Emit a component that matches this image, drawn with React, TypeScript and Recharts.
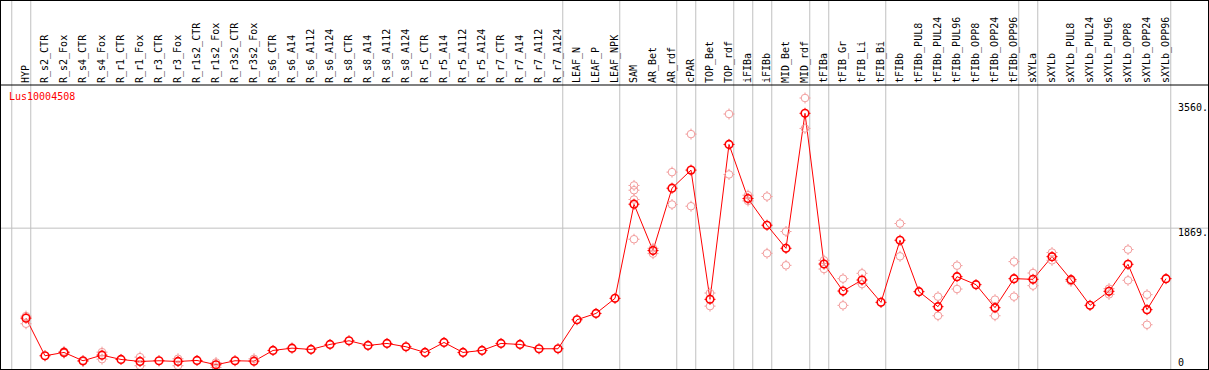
import React from "react"
import { LineChart, Line, XAxis, YAxis, ReferenceLine } from "recharts"

const samples = [
  "HYP", "R_s2_CTR", "R_s2_Fox", "R_s4_CTR", "R_s4_Fox", "R_r1_CTR", "R_r1_Fox",
  "R_r3_CTR", "R_r3_Fox", "R_r1s2_CTR", "R_r1s2_Fox", "R_r3s2_CTR", "R_r3s2_Fox",
  "R_s6_CTR", "R_s6_A14", "R_s6_A112", "R_s6_A124", "R_s8_CTR", "R_s8_A14", "R_s8_A112",
  "R_s8_A124", "R_r5_CTR", "R_r5_A14", "R_r5_A112", "R_r5_A124", "R_r7_CTR", "R_r7_A14",
  "R_r7_A112", "R_r7_A124", "LEAF_N", "LEAF_P", "LEAF_NPK", "SAM", "AR_Bet", "AR_rdf",
  "cPAR", "TOP_Bet", "TOP_rdf", "iFIBa", "iFIBb", "MID_Bet", "MID_rdf", "tFIBa",
  "tFIB_Gr", "tFIB_Li", "tFIB_Bi", "tFIBb", "tFIBb_PUL8", "tFIBb_PUL24", "tFIBb_PUL96",
  "tFIBb_OPP8", "tFIBb_OPP24", "tFIBb_OPP96", "sXYLa", "sXYLb", "sXYLb_PUL8",
  "sXYLb_PUL24", "sXYLb_PUL96", "sXYLb_OPP8", "sXYLb_OPP24", "sXYLb_OPP96",
]

// mean expression per sample
const expr = [
  700, 211, 254, 146, 219, 163, 137, 146, 137, 150, 94, 146, 141,
  280, 310, 293, 358, 406, 345, 371, 328, 254, 384, 254, 280, 371, 358, 302, 302,
  679, 761, 957, 2180, 1578, 2388, 2623, 944, 2957, 2254, 1907, 1607, 3361,
  1403, 1052, 1195, 905, 1712, 1044, 849, 1239, 1135, 836, 1213,
  1204, 1499, 1200, 866, 1048, 1399, 810, 1213,
]

// individual replicates (null = hidden behind the mean)
const rep1 = [
  726, null, 267, 137, 258, null, 193, null, 172, null, 124, null, 172,
  null, null, null, null, null, null, null, null, null, null, null, null, null, null, null, null,
  null, null, null, 2424, 1607, 2597, 3091, 1026, 3352, 2297, 2280, 1825, 3560,
  1451, 1213, 1282, null, 1929, null, 979, 1382, null, 940, 1434,
  1286, 1552, 1178, null, 1083, 1591, 1005, null,
]
const rep2 = [
  627, null, 245, null, 167, null, 81, null, 81, null, 59, null, null,
  null, null, null, null, null, null, null, null, null, null, null, null, null, null, null, null,
  null, null, null, 1725, 1538, 2176, 2154, 856, 2567, 2223, 1542, 1386, 3165,
  1338, 866, 1143, null, 1503, null, 731, 1078, null, 731, 979,
  1122, 1451, null, null, 1009, 1191, 614, null,
]
const rep3: (number | null)[] = samples.map((s) => (s === "SAM" ? 2362 : null))
const rep4: (number | null)[] = samples.map((s) => (s === "SAM" ? 2241 : null))

// group boundaries: a separator is drawn right after these sample indices
const separators = [-1, 0, 28, 31, 34, 35, 37, 38, 39, 41, 42, 45, 52, 53, 60]
const yTicks = [0, 1869, 3560]
const geneName = "Lus10004508"

const MONO = "'DejaVu Sans Mono', monospace"
const RED = "#ff0000"
const PINK = "#f29a9a"

const rows = samples.map((name, i) => ({
  idx: i,
  name,
  expr: expr[i],
  r1: rep1[i],
  r2: rep2[i],
  r3: rep3[i],
  r4: rep4[i],
}))

function marker(color: string, width: number) {
  return (props: any) => {
    const { cx, cy, index, value } = props
    if (value == null || cx == null || cy == null || isNaN(cy)) return <g key={`e${index}`} />
    return (
      <g key={`${color}${index}`}>
        <circle cx={cx} cy={cy} r={3.8} fill="none" stroke={color} strokeWidth={width} />
        <path
          d={`M${cx - 5.5},${cy}h1.5M${cx + 4},${cy}h1.5M${cx},${cy - 5.5}v1.5M${cx},${cy + 4}v1.5`}
          stroke={color}
          strokeWidth={1}
        />
      </g>
    )
  }
}

const HeaderTick = (props: any) => {
  const { x, payload } = props
  const bx = x + 3
  return (
    <text
      x={bx}
      y={83}
      transform={`rotate(-90 ${bx} 83)`}
      fontFamily={MONO}
      fontSize={10}
      fill="#000"
      textAnchor="start"
    >
      {samples[payload.value]}
    </text>
  )
}

const ValueTick = (props: any) => {
  const { y, payload } = props
  const v = payload.value
  const dy = v === 0 ? -6.5 : v === 1869 ? 8 : 12.5
  return (
    <text x={1178} y={y + dy} fontFamily={MONO} fontSize={10} fill="#000" textAnchor="start">
      {v === 0 ? "0" : `${v}.`}
    </text>
  )
}

export default function App() {
  return (
    <div
      style={{
        position: "absolute",
        left: 0,
        top: 0,
        width: 1209,
        height: 370,
        overflow: "hidden",
        background: "#fff",
      }}
    >
      <LineChart width={1209} height={372} data={rows} margin={{ top: 0, right: 1, bottom: 0, left: 1 }}>
        <XAxis
          dataKey="idx"
          type="number"
          orientation="top"
          height={85}
          domain={[-25 / 19, 1182 / 19]}
          allowDataOverflow
          ticks={samples.map((_, i) => i)}
          interval={0}
          tick={<HeaderTick />}
          tickLine={false}
          axisLine={{ stroke: "#000", strokeWidth: 1 }}
        />
        <YAxis
          orientation="right"
          mirror
          domain={[0, 3729]}
          allowDataOverflow
          ticks={yTicks}
          interval={0}
          tick={<ValueTick />}
          tickLine={false}
          axisLine={false}
        />
        <ReferenceLine y={1869} stroke="#c0c0c0" strokeWidth={1} />
        {separators.map((s) => (
          <ReferenceLine
            key={s}
            segment={[
              { x: s + 0.25, y: 0 },
              { x: s + 0.25, y: 4833 },
            ]}
            stroke="#c0c0c0"
            strokeWidth={1}
            ifOverflow="visible"
          />
        ))}
        {["r1", "r2", "r3", "r4"].map((k) => (
          <Line
            key={k}
            dataKey={k}
            stroke="none"
            dot={marker(PINK, 1)}
            activeDot={false}
            isAnimationActive={false}
            legendType="none"
          />
        ))}
        <Line
          dataKey="expr"
          stroke={RED}
          strokeWidth={1}
          dot={marker(RED, 1.6)}
          activeDot={false}
          isAnimationActive={false}
        />
      </LineChart>
      <div
        style={{
          position: "absolute",
          left: 9,
          top: 92,
          fontFamily: MONO,
          fontSize: 10,
          lineHeight: "10px",
          color: RED,
        }}
      >
        {geneName}
      </div>
      <div
        style={{
          position: "absolute",
          inset: 0,
          border: "1px solid #000",
          boxSizing: "border-box",
          pointerEvents: "none",
        }}
      />
    </div>
  )
}
